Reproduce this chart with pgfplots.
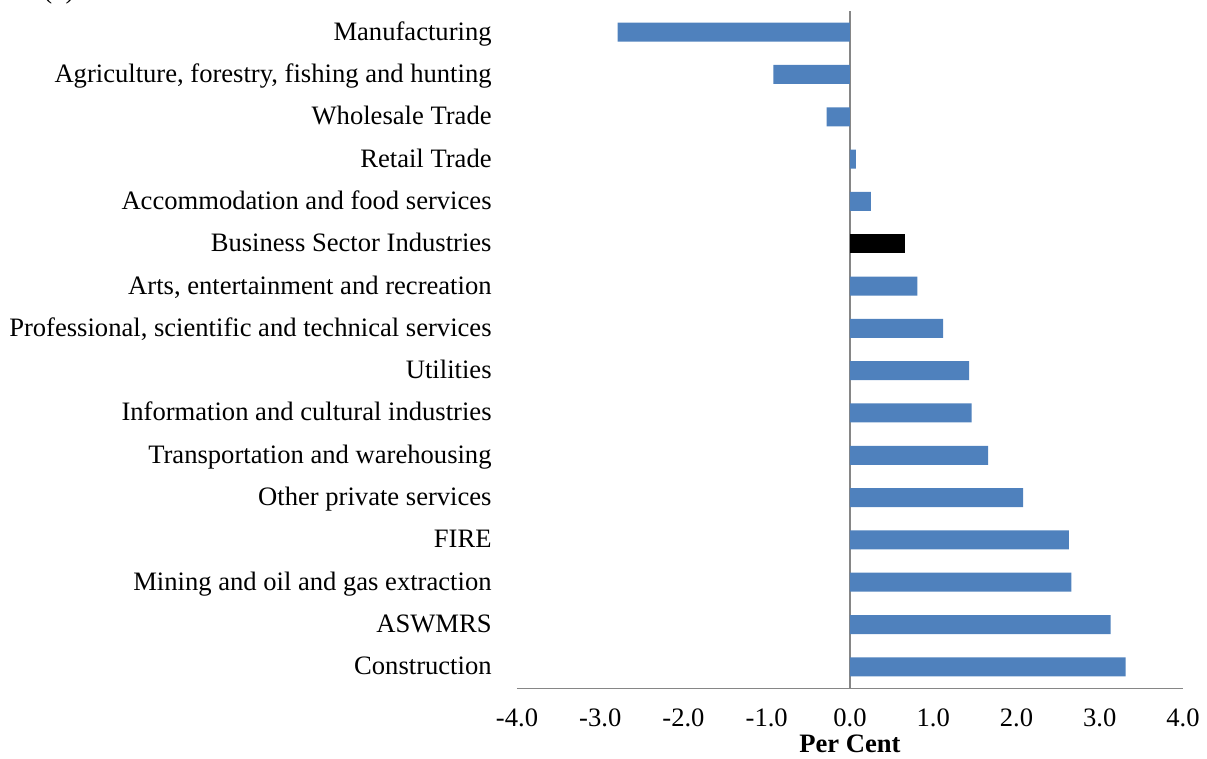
\documentclass[border=0pt]{standalone}
\usepackage{fontspec}
\setmainfont{Liberation Serif}
\usepackage{pgfplots}
\pgfplotsset{compat=1.18}
\definecolor{barblue}{HTML}{4F81BD}
\definecolor{axgray}{HTML}{868686}
\begin{document}
\begin{tikzpicture}
\useasboundingbox (0,0) rectangle (603.5pt,379.5pt);
\node[anchor=base west,inner sep=0pt,font=\fontsize{13.3}{16}\selectfont] at (21.5pt,380.3pt) {(b) Hours Worked};
\begin{axis}[
  at={(258.5pt,35.5pt)}, anchor=south west,
  scale only axis, width=333pt, height=338.5pt,
  xbar, bar width=9.5pt,
  xmin=-4, xmax=4, ymin=-0.5, ymax=15.5,
  xtick={-4,-3,...,4},
  ytick={0,...,15},
  yticklabels={Construction,ASWMRS,Mining and oil and gas extraction,FIRE,Other private services,Transportation and warehousing,Information and cultural industries,Utilities,{Professional, scientific and technical services},{Arts, entertainment and recreation},Business Sector Industries,Accommodation and food services,Retail Trade,Wholesale Trade,{Agriculture, forestry, fishing and hunting},Manufacturing},
  axis x line*=bottom,
  x axis line style={draw=axgray,-},
  y axis line style={draw=none},
  major tick length=0pt,
  /pgf/number format/assume math mode=true,
  /pgf/number format/fixed, /pgf/number format/fixed zerofill, /pgf/number format/precision=1,
  every tick label/.append style={font=\fontsize{13.3}{16}\selectfont},
  xticklabel style={anchor=base, inner sep=0pt, yshift=-19.5pt},
  yticklabel style={anchor=base east, inner sep=0pt, xshift=-12.5pt, yshift=-4pt},
  xlabel={Per Cent},
  xlabel style={at={(axis description cs:0.5,0)}, anchor=base, inner sep=0pt, yshift=-32.5pt, font=\fontsize{13.3}{16}\selectfont\bfseries},
  extra x ticks={0}, extra x tick labels={},
  extra x tick style={grid=major, major grid style={draw=axgray, line width=0.8pt}},
]
\addplot[fill=barblue, draw=none, bar shift=0pt] coordinates {
  (3.31,0) (3.13,1) (2.66,2) (2.63,3) (2.08,4) (1.66,5) (1.46,6) (1.43,7) (1.12,8) (0.81,9)
  (0.25,11) (0.07,12) (-0.28,13) (-0.92,14) (-2.79,15)
};
\addplot[fill=black, draw=none, bar shift=0pt] coordinates {
  (0.66,10)
};
\end{axis}
\end{tikzpicture}
\end{document}
